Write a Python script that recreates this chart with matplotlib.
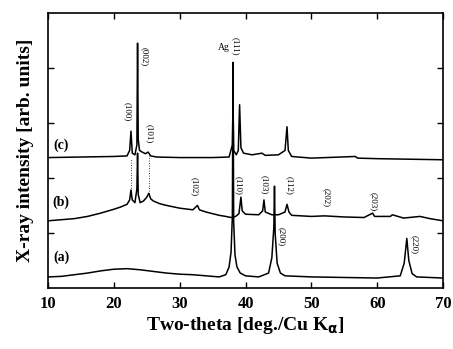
import matplotlib
matplotlib.use("Agg")
import matplotlib.pyplot as plt

# ---- data ----
tt_a = [10, 12, 14, 16, 18, 20, 22, 24, 26, 28, 30, 32, 34, 36, 37.0, 37.5, 37.8, 38.0, 38.1, 38.2, 38.4, 38.7,
        39.2, 40, 42, 43.5, 44.0, 44.3, 44.4, 44.5, 44.8, 45.3, 46, 50, 55, 60, 63.5, 64.1, 64.5, 64.8, 65.3, 66, 70]
int_a = [0.20, 0.21, 0.24, 0.27, 0.31, 0.34, 0.35, 0.33, 0.30, 0.27, 0.25, 0.24, 0.22, 0.20, 0.24, 0.38, 0.65, 1.3,
         4.1, 1.2, 0.6, 0.38, 0.27, 0.22, 0.2, 0.27, 0.55, 1.1, 1.85, 1.0, 0.45, 0.27, 0.22, 0.2, 0.19, 0.18, 0.22,
         0.45, 0.9, 0.5, 0.26, 0.2, 0.18]

tt_b = [10, 12, 14, 16, 18, 20, 21, 22, 22.4, 22.6, 22.8, 23.2, 23.5, 23.6, 23.7, 24.0, 24.5, 25.0, 25.3, 25.6,
        26, 27, 28, 30, 32, 32.7, 33, 34, 36, 37, 37.8, 38.5, 39.0, 39.3, 39.5, 40, 42, 42.6, 42.8, 43.0, 44, 45,
        46.0, 46.3, 46.6, 47, 50, 52, 55, 58, 59.3, 59.6, 62, 62.3, 64, 66.5, 68, 70]
int_b = [1.22, 1.24, 1.26, 1.30, 1.36, 1.43, 1.47, 1.52, 1.6, 1.78, 1.6, 1.55, 1.8, 2.45, 1.7, 1.55, 1.58, 1.65,
         1.72, 1.62, 1.58, 1.53, 1.50, 1.45, 1.42, 1.5, 1.42, 1.38, 1.32, 1.30, 1.28, 1.30, 1.35, 1.65, 1.4, 1.34,
         1.33, 1.4, 1.6, 1.38, 1.33, 1.33, 1.38, 1.52, 1.38, 1.32, 1.30, 1.31, 1.29, 1.28, 1.36, 1.30, 1.30, 1.33,
         1.27, 1.30, 1.26, 1.22]

tt_c = [10, 15, 20, 22, 22.4, 22.6, 22.8, 23.2, 23.5, 23.6, 23.7, 23.9, 24.3, 24.8, 25.2, 25.6, 26.5, 30, 35,
        37.5, 38.0, 38.1, 38.2, 38.6, 38.9, 39.1, 39.3, 39.7, 41, 42.5, 43, 45, 46.0, 46.3, 46.5, 47, 50, 56.7, 57,
        60, 65, 70]
int_c = [2.37, 2.38, 2.39, 2.40, 2.5, 2.85, 2.45, 2.42, 2.6, 4.45, 2.7, 2.5, 2.47, 2.44, 2.47, 2.40, 2.38, 2.37,
         2.37, 2.38, 2.6, 3.4, 2.5, 2.42, 2.5, 3.33, 2.55, 2.45, 2.42, 2.45, 2.41, 2.42, 2.5, 2.93, 2.5, 2.39, 2.36,
         2.39, 2.36, 2.35, 2.34, 2.33]

# peak labels: (text, 2theta, intensity position)
labels_c = [("(100)", 22.0, 3.2), ("(002)", 24.6, 4.2), ("(101)", 25.4, 2.8), ("(111)", 38.5, 4.4)]
labels_b = [("(102)", 32.2, 1.85), ("(110)", 38.9, 1.87), ("(103)", 42.9, 1.87), ("(112)", 46.7, 1.87),
            ("(202)", 52.3, 1.64), ("(203)", 59.5, 1.56)]
labels_a = [("(200)", 45.5, 0.93), ("(220)", 65.7, 0.78)]
sample_labels = [("(c)", 12.0, 2.6), ("(b)", 12.0, 1.55), ("(a)", 12.0, 0.55)]
dotted_lines = [(22.6, 1.72, 2.35), (25.3, 1.68, 2.42)]

serif = ["Liberation Serif", "DejaVu Serif"]

fig = plt.figure(figsize=(4.53, 3.49), dpi=100)
ax = fig.add_axes([0.106, 0.175, 0.872, 0.788])

for tt, it in ((tt_a, int_a), (tt_b, int_b), (tt_c, int_c)):
    ax.plot(tt, it, color="black", lw=1.1)

for x, y0, y1 in dotted_lines:
    ax.plot([x, x], [y0, y1], color="black", lw=0.6, ls=(0, (1, 2)))

for txt, x, y in labels_c + labels_b + labels_a:
    ax.text(x, y, txt, rotation=270, ha="center", va="center", fontsize=6.5, family=serif)
ax.text(36.7, 4.38, "Ag", ha="center", va="center", fontsize=7, family=serif)

for txt, x, y in sample_labels:
    ax.text(x, y, txt, ha="center", va="center", fontsize=10, fontweight="bold", family=serif)

ax.set_xlim(10, 70)
ax.set_ylim(0, 5)
ax.set_xticks([10, 20, 30, 40, 50, 60, 70])
ax.set_yticks([1, 2, 3, 4])
ax.set_yticklabels([])
ax.tick_params(direction="in", top=True, right=True, length=4, width=1, labelsize=12, pad=6)
for lab in ax.get_xticklabels():
    lab.set_fontfamily(serif)
    lab.set_fontweight("bold")
for sp in ax.spines.values():
    sp.set_linewidth(1.2)

ax.set_xlabel(r"Two-theta [deg./Cu K$_\mathbf{\alpha}$]", fontsize=14, fontweight="bold", family=serif, labelpad=2)
ax.set_ylabel("X-ray intensity [arb. units]", fontsize=14, fontweight="bold", family=serif, labelpad=4)

fig.savefig("out.png", dpi=100)
